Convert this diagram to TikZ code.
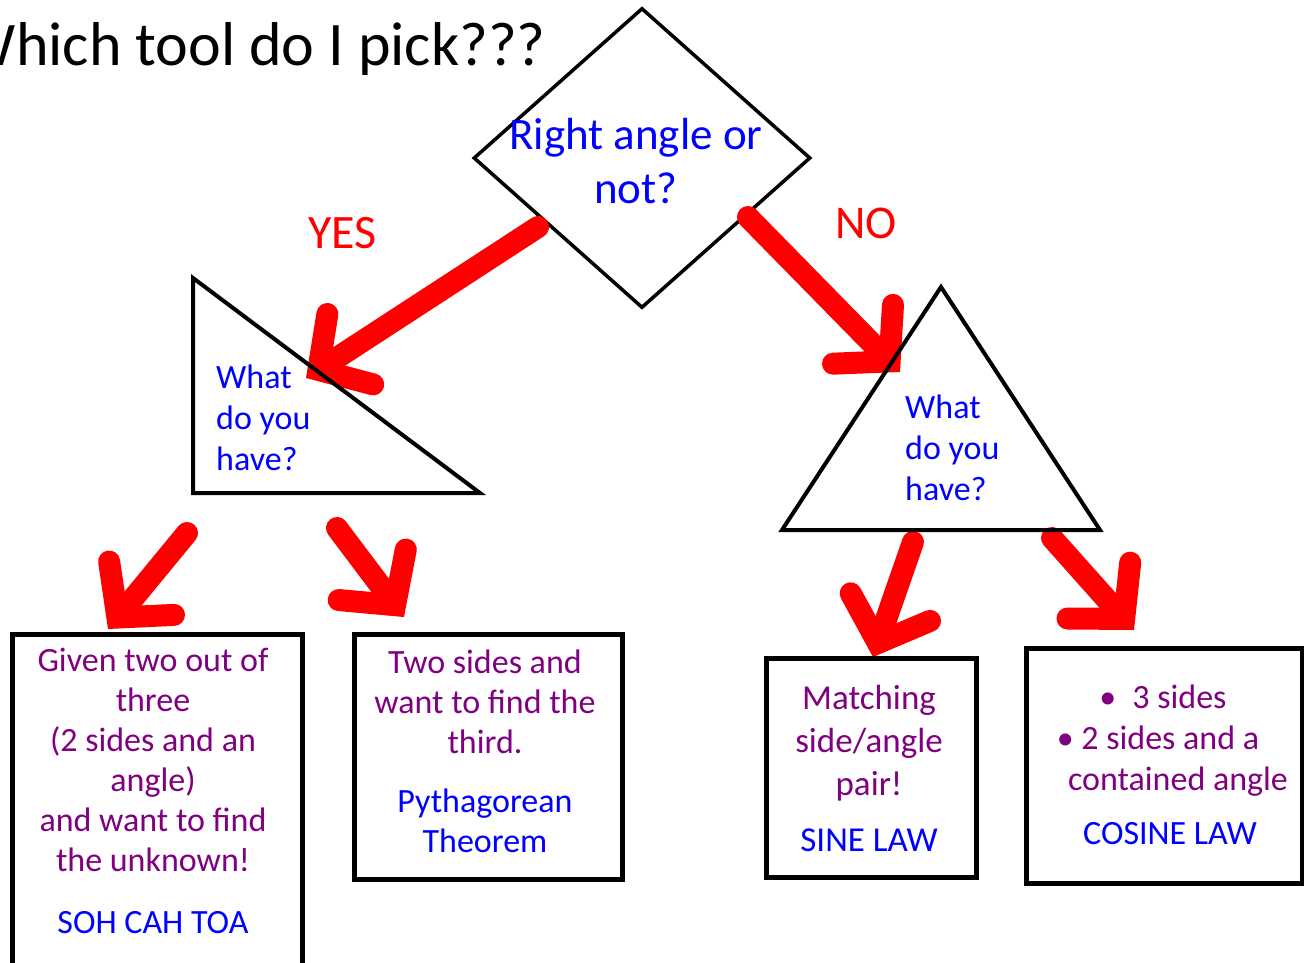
\documentclass[tikz,border=0pt]{standalone}
\usepackage{fontspec}
\setmainfont{Carlito}
\usetikzlibrary{shapes.geometric,arrows.meta,positioning}
\definecolor{txtblue}{RGB}{0,0,255}
\definecolor{txtpurple}{RGB}{128,0,128}
\definecolor{arrowred}{RGB}{255,0,0}
\tikzset{
	shapeline/.style={draw=black, line width=4pt},
	boxshape/.style={shapeline, line width=5pt, rectangle, anchor=north west, inner sep=0pt},
	redarrow/.style={draw=arrowred, line width=22pt, line cap=round,
		-{Straight Barb[length=38pt, width=84pt, line cap=round, line join=miter]}},
	bluetxt/.style={text=txtblue, inner sep=0pt, font=\fontsize{34}{41}\selectfont},
	boxtxt/.style={text=txtpurple, inner sep=0pt, align=center, anchor=base},
	answer/.style={font=\fontsize{48}{58}\selectfont, text=arrowred, inner sep=0pt, anchor=base west}
}
\begin{document}
\begin{tikzpicture}[x=1pt,y=-1pt]
	\useasboundingbox (0,0) rectangle (1304,962);
	\node[anchor=base east, inner sep=0pt, font=\fontsize{62}{74}\selectfont] (title) at (546,65) {Which tool do I pick???};
	% the question
	\node[diamond, shapeline, line width=3.5pt, minimum width=337pt, minimum height=300pt, inner sep=0pt] (rightq) at (642,158) {};
	\node[text=txtblue, inner sep=0pt, align=center, anchor=base, font=\fontsize{45}{54}\selectfont] (rightqtxt) at (636,203) {Right angle or\\not?};
	\node[answer] (yes) at (308,248) {YES};
	\node[answer, font=\fontsize{47}{56}\selectfont] (no) at (835,238) {NO};
	% arrows
	\coordinate (yesfrom) at (538,227);
	\coordinate (yesto) at (306,378);
	\coordinate (nofrom) at (748,217);
	\coordinate (noto) at (900,372);
	\coordinate (trigfrom) at (187,533);
	\coordinate (trigto) at (108,629);
	\coordinate (pythfrom) at (337,528);
	\coordinate (pythto) at (404,617);
	\coordinate (sinefrom) at (913,542);
	\coordinate (sineto) at (873,657);
	\coordinate (cosfrom) at (1052,538);
	\coordinate (costo) at (1134,630);
	\draw[redarrow] (yesfrom) -- (yesto);
	\draw[redarrow] (nofrom) -- (noto);
	\draw[redarrow] (trigfrom) -- (trigto);
	\draw[redarrow] (pythfrom) -- (pythto);
	\draw[redarrow] (sinefrom) -- (sineto);
	\draw[redarrow] (cosfrom) -- (costo);
	% triangles
	\draw[shapeline, line join=miter] (193,278) -- (193,493) -- (480,493) -- cycle;
	\node[bluetxt, align=left, anchor=base west] (righttxt) at (216,470) {What\\do you\\have?};
	\draw[shapeline, line join=miter] (941,287) -- (782,530) -- (1100,530) -- cycle;
	\node[bluetxt, align=left, anchor=base west] (othertxt) at (905,500) {What\\do you\\have?};
	% answers
	\node[boxshape, minimum width=290pt, minimum height=400pt] (trigbox) at (10,632) {};
	\node[boxshape, minimum width=268pt, minimum height=245pt] (pythbox) at (352,632) {};
	\node[boxshape, minimum width=210pt, minimum height=219pt] (sinebox) at (764,656) {};
	\node[boxshape, minimum width=276pt, minimum height=235pt] (cosbox) at (1024,646) {};
	\node[boxtxt, font=\fontsize{34}{40}\selectfont] (trigtxt) at (153,933) {Given two out of\\three\\(2 sides and an\\angle)\\and want to find\\the unknown!\\[22pt]\textcolor{txtblue}{SOH CAH TOA}};
	\node[boxtxt, font=\fontsize{34}{40}\selectfont] (pythtxt) at (485,852) {Two sides and\\want to find the\\third.\\[19pt]\textcolor{txtblue}{Pythagorean}\\\textcolor{txtblue}{Theorem}};
	\node[boxtxt, font=\fontsize{35}{43}\selectfont] (sinetxt) at (869,851) {Matching\\side/angle\\pair!\\[13pt]\textcolor{txtblue}{SINE LAW}};
	\node[boxtxt, font=\fontsize{34}{41}\selectfont] (costxt) at (1170,844) {\textbullet\hspace{16pt}3 sides\hspace*{14pt}\mbox{}\\\textbullet\ 2 sides and a\hspace*{24pt}\mbox{}\\\hspace*{16pt}contained angle\\[13pt]\textcolor{txtblue}{COSINE LAW}};
\end{tikzpicture}
\end{document}
